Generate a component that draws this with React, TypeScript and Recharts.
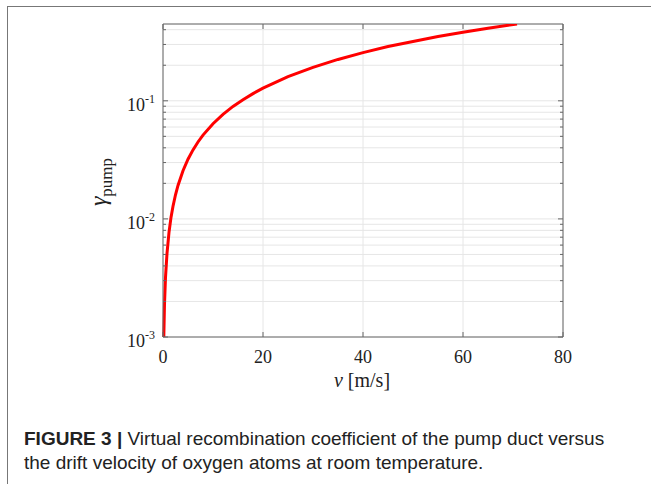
import { LineChart, Line, XAxis, YAxis, CartesianGrid, ReferenceLine } from 'recharts'

// drift velocity v [m/s] and gamma_pump
const velocity = [0.16, 0.3, 0.5, 0.8, 1.2, 1.6, 2, 2.5, 3, 4, 5, 6, 7, 8, 10, 12, 14, 16, 18, 20, 25, 30, 35, 40, 45, 50, 55, 60, 65, 70.8]
const gammaPump = [0.001, 0.0019, 0.0032, 0.0051, 0.0077, 0.0103, 0.0128, 0.016, 0.0192, 0.0256, 0.032, 0.0384, 0.0448, 0.0512, 0.064, 0.0768, 0.0896, 0.102, 0.115, 0.128, 0.16, 0.192, 0.224, 0.256, 0.288, 0.318, 0.35, 0.38, 0.412, 0.447]

const xTicks = [0, 20, 40, 60, 80]
const yTicks = [
  0.001, 0.002, 0.003, 0.004, 0.005, 0.006, 0.007, 0.008, 0.009,
  0.01, 0.02, 0.03, 0.04, 0.05, 0.06, 0.07, 0.08, 0.09,
  0.1, 0.2, 0.3, 0.4,
]
const xDomain = [0, 80]
const yDomain = [0.001, 0.447]

const data = velocity.map((v, i) => ({ v, g: gammaPump[i] }))

// plot box edges (px) used for inward tick marks
const LEFT = 163
const RIGHT = 563
const TOP = 24
const BOTTOM = 337
const AX = '#666'
const SERIF = '"Liberation Serif", "DejaVu Serif", serif'

const isDecade = (v: number) => Math.abs(Math.log10(v) - Math.round(Math.log10(v))) < 1e-6

const YTick = (props: any) => {
  const { y, payload } = props
  const major = isDecade(payload.value)
  const len = major ? 5 : 3
  const exp = Math.round(Math.log10(payload.value))
  return (
    <g>
      <line x1={LEFT} x2={LEFT + len} y1={y} y2={y} stroke={AX} />
      <line x1={RIGHT} x2={RIGHT - len} y1={y} y2={y} stroke={AX} />
      {major && (
        <text x={155} y={y + 10} textAnchor="end" fontFamily={SERIF} fill="#222">
          <tspan fontSize={18}>10</tspan>
          <tspan fontSize={12} dy={-8}>{exp}</tspan>
        </text>
      )}
    </g>
  )
}

const XTick = (props: any) => {
  const { x, payload } = props
  return (
    <g>
      <line x1={x} x2={x} y1={BOTTOM} y2={BOTTOM - 5} stroke={AX} />
      <line x1={x} x2={x} y1={TOP} y2={TOP + 5} stroke={AX} />
      <text x={x} y={363} textAnchor="middle" fontFamily={SERIF} fontSize={18} fill="#222">
        {payload.value}
      </text>
    </g>
  )
}

export default function App() {
  return (
    <div style={{ position: 'absolute', left: 0, top: 0, width: 651, height: 484, background: '#fff', overflow: 'hidden' }}>
      <div style={{ position: 'absolute', left: 7, top: 6, width: 660, height: 490, borderTop: '1.5px solid #777', borderLeft: '1.5px solid #777' }} />
      <div style={{ position: 'absolute', left: 0, top: 0 }}>
        <LineChart width={651} height={400} data={data} margin={{ top: TOP, right: 651 - RIGHT, bottom: 13, left: 0 }}>
          <CartesianGrid stroke="#e6e6e6" />
          <XAxis
            dataKey="v"
            type="number"
            domain={xDomain}
            ticks={xTicks}
            interval={0}
            height={50}
            tickLine={false}
            stroke={AX}
            tick={XTick}
            label={{
              content: () => (
                <text x={362} y={387} textAnchor="middle" fontFamily={SERIF} fontSize={20} fill="#222">
                  <tspan fontStyle="italic">v</tspan> [m/s]
                </text>
              ),
            }}
          />
          <YAxis
            type="number"
            scale="log"
            domain={yDomain}
            allowDataOverflow
            ticks={yTicks}
            interval={0}
            width={LEFT}
            tickLine={false}
            stroke={AX}
            tick={YTick}
            label={{
              content: () => (
                <text transform="translate(106,182) rotate(-90)" textAnchor="middle" fontFamily={SERIF} fill="#222">
                  <tspan fontSize={24} fontStyle="italic">γ</tspan>
                  <tspan fontSize={17} dy={6}>pump</tspan>
                </text>
              ),
            }}
          />
          <ReferenceLine x={xDomain[1]} stroke={AX} />
          <ReferenceLine y={yDomain[1]} stroke={AX} />
          <Line dataKey="g" type="linear" stroke="#ff0000" strokeWidth={3} dot={false} isAnimationActive={false} />
        </LineChart>
      </div>
      <div style={{ position: 'absolute', left: 24, top: 427, width: 627, fontFamily: '"Liberation Sans", Arial, sans-serif', fontSize: 19, lineHeight: '24px', color: '#222', whiteSpace: 'nowrap' }}>
        <b>FIGURE 3 |</b> Virtual recombination coefficient of the pump duct versus
        <br />
        the drift velocity of oxygen atoms at room temperature.
      </div>
    </div>
  )
}
